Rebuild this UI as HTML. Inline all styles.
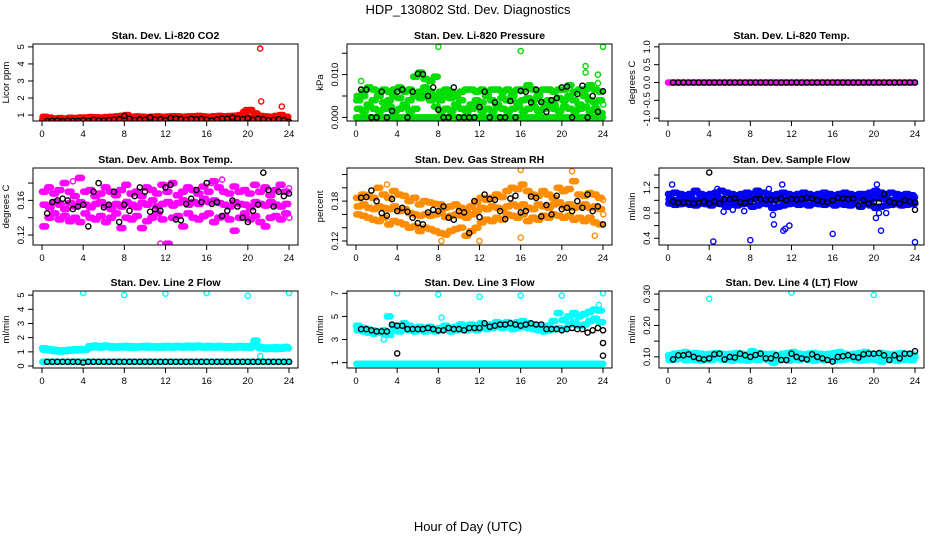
<!DOCTYPE html>
<html><head><meta charset="utf-8"><title>HDP_130802 Std. Dev. Diagnostics</title>
<style>
html,body{margin:0;padding:0;background:#fff;}
svg{display:block;font-family:"Liberation Sans",Arial,sans-serif;}
</style></head>
<body>
<svg id="chart" width="936" height="540" viewBox="0 0 936 540" xmlns="http://www.w3.org/2000/svg">
<rect x="0" y="0" width="936" height="540" fill="#fff"/>
<text x="468" y="14" text-anchor="middle" font-size="13">HDP_130802  Std. Dev. Diagnostics</text>
<text x="468" y="531" text-anchor="middle" font-size="13">Hour of Day (UTC)</text>
</svg>
<script>
// ---- shared tick labels ----
const xTicks = [0,4,8,12,16,20,24];

// ---- P1 CO2 ----
const co2Red1 = [0.6,0.62,0.6,0.63,0.61,0.62,0.64,0.6,0.62,0.63,0.65,0.64,0.62,0.66,0.64,0.65,0.63,0.62,0.65,0.66,0.64,0.66,0.67,0.65,0.66,0.68,0.66,0.67,0.65,0.66,0.6,0.64,0.68,0.67,0.66,0.68,0.67,0.66,0.65,0.67,0.68,0.66,0.6,0.62,0.64,0.63,0.62,0.6,0.5];
const co2Red2 = [0.9,0.85,0.8,0.82,0.8,0.84,0.83,0.86,0.85,0.88,0.87,0.86,0.88,0.9,0.92,0.95,1.0,0.9,0.92,0.9,0.88,0.9,0.92,0.9,0.91,0.93,0.92,0.9,0.92,0.93,0.95,0.92,0.9,0.93,0.95,0.92,0.94,0.96,1.0,1.2,1.3,1.1,0.95,0.92,0.9,0.95,1.0,0.9,0.8];
const co2Red3 = [0.72,0.74,0.73,0.75,0.72,0.74,0.76,0.75,0.73,0.77,0.76,0.78,0.75,0.77,0.79,0.78,0.8,0.78,0.77,0.79,0.8,0.78,0.81,0.79,0.8,0.82,0.8,0.81,0.79,0.82,0.8,0.83,0.81,0.8,0.82,0.84,0.82,0.8,0.83,0.85,0.84,0.82,0.78,0.76,0.78,0.75,0.77,0.74,0.6];
const co2OutHours = [21.2,21.3,20.3,19.8,23.3,23.6];
const co2OutVals = [4.9,1.8,1.3,1.3,1.5,0.7];
const co2Black = [0.65,0.66,0.68,0.64,0.67,0.66,0.65,0.7,0.66,0.72,0.7,0.68,0.71,0.73,0.75,0.95,0.78,0.7,0.74,0.72,0.86,0.73,0.75,0.7,0.82,0.8,0.76,0.72,0.78,0.75,0.77,0.72,0.68,0.74,0.8,0.78,0.86,0.8,0.76,0.82,0.72,0.78,0.75,0.7,0.72,0.76,0.7,0.6];
const co2YTicks = [1,2,3,4,5];
const co2YLabels = ["1","2","3","4","5"];

// ---- P2 Pressure ----
const presG0 = [0,0,0,0,0,0,0,0,0,0,0,0,0,0,0,0,0,0,0,0,0,0,0,0,0,0,0,0,0,0,0,0,0,0,0,0,0,0,0,0,0,0,0,0,0,0,0,0,0];
const presG1 = [0.005,0.006,0.007,0.0065,0.006,0.0065,0.006,0.0065,0.007,0.006,0.0065,0.0095,0.0105,0.009,0.0085,0.0095,0.006,0.0065,0.006,0.005,0.006,0.0065,0.0065,0.006,0.0065,0.006,0.0065,0.0065,0.006,0.0065,0.006,0.0065,0.0065,0.0075,0.0065,0.006,0.0065,0.0065,0.006,0.0065,0.0065,0.0075,0.006,0.0065,0.0065,0.0075,0.0065,0.006,0.005];
const presG2 = [0.004,0.005,0.003,0.004,0.005,0.0035,0.004,0.005,0.0045,0.003,0.004,0.005,0.006,0.007,0.006,0.005,0.004,0.005,0.0045,0.003,0.004,0.002,0.003,0.004,0.0035,0.005,0.004,0.003,0.0045,0.004,0.005,0.0035,0.004,0.0045,0.004,0.005,0.0035,0.004,0.003,0.0045,0.004,0.005,0.004,0.003,0.005,0.004,0.0035,0.004,0.003];
const presG3 = [0.002,0.0015,0.0025,0.002,0.0015,0.002,0.0025,0.0015,0.002,0.0025,0.0015,0.002,0.0045,0.005,0.004,0.0025,0.0015,0.002,0.0015,0.0025,0.002,0.0015,0.002,0.0025,0.0015,0.002,0.0015,0.0025,0.002,0.0015,0.002,0.0025,0.0015,0.002,0.0025,0.0015,0.002,0.0025,0.002,0.0015,0.0025,0.002,0.0015,0.002,0.0025,0.0015,0.002,0.001,0.0015];
const presOutHours = [0.5,8,16,24,22.3,22.3,23.5,23.5];
const presOutVals = [0.0085,0.0165,0.0155,0.0165,0.012,0.0105,0.010,0.008];
const presBlack = [0.0065,0.0065,0,0,0.006,0,0.0015,0.006,0.0065,0,0.006,0.0102,0.0101,0.005,0.007,0.0018,0,0,0.007,0,0,0,0,0.0024,0.006,0,0.0035,0,0,0.0038,0,0.0062,0.006,0.0035,0.0065,0.0036,0.0013,0.004,0.0045,0.007,0.0072,0,0.0055,0.0074,0,0.005,0.0013,0.0061];
const presYTicks = [0,0.005,0.010,0.015];
const presYLabels = ["0.000","","0.010",""];

// ---- P3 Li-820 Temp ----
const tempMag = [0,0,0,0,0,0,0,0,0,0,0,0,0,0,0,0,0,0,0,0,0,0,0,0,0,0,0,0,0,0,0,0,0,0,0,0,0,0,0,0,0,0,0,0,0,0,0,0,0];
const tempBlack = [0,0,0,0,0,0,0,0,0,0,0,0,0,0,0,0,0,0,0,0,0,0,0,0,0,0,0,0,0,0,0,0,0,0,0,0,0,0,0,0,0,0,0,0,0,0,0,0];
const tempYTicks = [-1,-0.5,0,0.5,1];
const tempYLabels = ["-1.0","-0.5","0.0","0.5","1.0"];

// ---- P4 Amb Box Temp ----
const boxM1 = [0.17,0.175,0.168,0.172,0.18,0.17,0.165,0.186,0.17,0.172,0.165,0.168,0.175,0.17,0.166,0.172,0.178,0.168,0.17,0.165,0.175,0.172,0.168,0.178,0.17,0.18,0.166,0.17,0.175,0.172,0.168,0.176,0.17,0.182,0.175,0.17,0.168,0.176,0.17,0.172,0.168,0.178,0.17,0.175,0.166,0.172,0.178,0.17,0.174];
const boxM2 = [0.155,0.152,0.158,0.155,0.15,0.157,0.153,0.158,0.155,0.152,0.156,0.158,0.154,0.15,0.156,0.153,0.158,0.155,0.152,0.157,0.155,0.16,0.153,0.156,0.158,0.154,0.157,0.16,0.155,0.158,0.156,0.162,0.158,0.16,0.157,0.155,0.153,0.158,0.156,0.155,0.152,0.158,0.156,0.154,0.158,0.155,0.153,0.156,0.155];
const boxM3 = [0.13,0.14,0.145,0.138,0.142,0.136,0.14,0.135,0.145,0.14,0.138,0.142,0.135,0.14,0.145,0.128,0.14,0.138,0.142,0.128,0.136,0.14,0.145,0.138,0.11,0.14,0.142,0.13,0.145,0.14,0.138,0.142,0.145,0.135,0.14,0.142,0.138,0.125,0.14,0.145,0.138,0.142,0.135,0.13,0.14,0.142,0.138,0.145,0.14];
const boxOutHours = [3,17.5,16.5,11.5];
const boxOutVals = [0.182,0.184,0.18,0.11];
const boxBlack = [0.145,0.158,0.16,0.162,0.16,0.15,0.153,0.155,0.13,0.17,0.18,0.152,0.155,0.17,0.135,0.155,0.148,0.165,0.175,0.17,0.147,0.15,0.148,0.175,0.178,0.138,0.137,0.156,0.162,0.172,0.158,0.18,0.156,0.158,0.142,0.148,0.16,0.153,0.14,0.135,0.148,0.155,0.192,0.172,0.153,0.17,0.165,0.168];
const boxYTicks = [0.12,0.14,0.16,0.18];
const boxYLabels = ["0.12","","0.16",""];

// ---- P5 Gas Stream RH ----
const rhO1 = [0.185,0.19,0.188,0.185,0.2,0.19,0.185,0.195,0.19,0.188,0.18,0.185,0.175,0.18,0.178,0.176,0.175,0.17,0.172,0.175,0.17,0.168,0.172,0.178,0.185,0.182,0.185,0.19,0.186,0.195,0.2,0.198,0.205,0.195,0.19,0.188,0.195,0.19,0.185,0.2,0.195,0.198,0.21,0.19,0.188,0.192,0.19,0.185,0.182];
const rhO2 = [0.172,0.175,0.17,0.168,0.172,0.17,0.168,0.172,0.165,0.168,0.162,0.16,0.158,0.16,0.158,0.16,0.162,0.156,0.158,0.16,0.158,0.155,0.16,0.165,0.17,0.168,0.172,0.17,0.168,0.172,0.175,0.172,0.175,0.17,0.168,0.175,0.172,0.17,0.175,0.178,0.172,0.175,0.17,0.172,0.175,0.17,0.172,0.168,0.172];
const rhO3 = [0.16,0.158,0.155,0.152,0.15,0.155,0.145,0.15,0.148,0.145,0.14,0.142,0.135,0.14,0.138,0.135,0.132,0.13,0.135,0.138,0.14,0.128,0.135,0.14,0.148,0.152,0.15,0.155,0.152,0.16,0.158,0.155,0.16,0.15,0.155,0.152,0.158,0.155,0.16,0.158,0.155,0.158,0.152,0.155,0.15,0.155,0.148,0.145,0.16];
const rhOutHours = [21,16,3,8.3,12,16,23.2];
const rhOutVals = [0.225,0.227,0.205,0.12,0.12,0.125,0.128];
const rhBlack = [0.185,0.186,0.196,0.18,0.162,0.158,0.183,0.165,0.17,0.164,0.155,0.147,0.145,0.163,0.167,0.165,0.172,0.155,0.152,0.165,0.163,0.132,0.18,0.156,0.19,0.183,0.182,0.165,0.153,0.184,0.188,0.163,0.165,0.187,0.185,0.157,0.174,0.16,0.188,0.168,0.17,0.165,0.18,0.17,0.19,0.165,0.172,0.145];
const rhYTicks = [0.12,0.14,0.16,0.18,0.20,0.22];
const rhYLabels = ["0.12","","","0.18","",""];

// ---- P6 Sample Flow ----
const sfB1 = [1.1,1.12,1.1,1.08,1.1,1.15,1.1,1.08,1.1,1.12,1.15,1.12,1.1,1.08,1.1,1.12,1.1,1.15,1.12,1.1,1.08,1.1,1.12,1.1,1.08,1.1,1.12,1.1,1.08,1.1,1.12,1.1,1.08,1.1,1.12,1.1,1.08,1.1,1.1,1.12,1.15,1.12,1.1,1.12,1.1,1.08,1.1,1.08,1.05];
const sfB2 = [1.02,1.0,1.02,1.0,1.02,1.0,1.03,1.0,1.02,1.05,1.02,1.0,1.05,1.03,1.05,1.02,1.03,1.05,1.0,1.02,1.0,1.05,1.0,1.02,1.03,1.0,1.02,1.03,1.02,1.0,1.03,1.02,1.0,1.02,1.03,1.0,1.02,1.03,1.0,1.02,1.05,1.03,1.02,1.0,1.02,1.03,1.0,1.02,1.0];
const sfB3 = [0.95,0.93,0.94,0.95,0.93,0.92,0.95,0.94,0.92,0.95,0.94,0.9,0.95,0.92,0.94,0.95,0.9,0.92,0.95,0.94,0.88,0.9,0.92,0.94,0.95,0.93,0.94,0.92,0.95,0.94,0.93,0.95,0.92,0.94,0.93,0.92,0.95,0.9,0.94,0.92,0.88,0.9,0.92,0.93,0.94,0.92,0.93,0.94,0.95];
const sfOutHours = [0.4,4.4,8,16,24,11.2,11.4,11.8,10.3,10.2,20.3,20.2,20.7,20.5,21.2,6.3,7.4,11.1,9.8,4.8,5.4];
const sfOutVals = [1.25,0.35,0.37,0.47,0.34,0.52,0.55,0.6,0.62,0.77,1.25,0.72,0.52,0.8,0.8,0.85,0.83,1.25,1.18,1.18,0.82];
const sfBlack = [0.98,0.96,0.97,0.96,0.95,0.96,0.98,0.95,0.98,0.95,1.02,1.02,1.03,0.97,0.96,0.98,1.02,1.02,1.01,1.01,1.0,1.03,1.0,1.02,1.01,1.02,1.04,1.03,1.0,0.98,0.97,1.0,1.04,1.03,1.02,1.03,0.92,1.0,0.95,0.97,0.96,1.1,0.98,0.96,0.95,1.0,0.98,0.97];
const sfBlackOutHours = [4,24];
const sfBlackOutVals = [1.44,0.85];
const sfYTicks = [0.4,0.6,0.8,1.0,1.2,1.4];
const sfYLabels = ["0.4","","0.8","","1.2",""];

// ---- P7 Line 2 Flow ----
const l2C1 = [1.25,1.2,1.15,1.1,1.1,1.15,1.18,1.2,1.2,1.4,1.45,1.4,1.45,1.4,1.38,1.4,1.42,1.4,1.38,1.4,1.42,1.4,1.38,1.4,1.42,1.4,1.42,1.4,1.43,1.42,1.45,1.4,1.42,1.4,1.42,1.4,1.4,1.38,1.42,1.4,1.4,1.6,1.35,1.3,1.3,1.32,1.3,1.35,1.25];
const l2C2 = [1.15,1.1,1.05,1.02,1.05,1.08,1.1,1.12,1.15,1.3,1.32,1.3,1.35,1.3,1.3,1.32,1.3,1.3,1.3,1.32,1.3,1.32,1.3,1.3,1.32,1.3,1.33,1.3,1.32,1.3,1.34,1.3,1.32,1.3,1.32,1.3,1.3,1.3,1.32,1.3,1.3,1.8,1.25,1.2,1.22,1.2,1.22,1.25,1.2];
const l2C3 = [0.3,0.3,0.3,0.3,0.3,0.3,0.3,0.3,0.3,0.3,0.3,0.3,0.3,0.3,0.3,0.3,0.3,0.3,0.3,0.3,0.3,0.3,0.3,0.3,0.3,0.3,0.3,0.3,0.3,0.3,0.3,0.3,0.3,0.3,0.3,0.3,0.3,0.3,0.3,0.3,0.3,0.3,0.3,0.3,0.3,0.3,0.3,0.3,0.3];
const l2OutHours = [4,8,12,16,20,24,21.2];
const l2OutVals = [5.15,5.0,5.1,5.15,4.95,5.15,0.7];
const l2Black = [0.3,0.3,0.3,0.3,0.3,0.3,0.3,0.25,0.3,0.3,0.3,0.3,0.3,0.3,0.3,0.3,0.3,0.3,0.3,0.3,0.3,0.3,0.3,0.3,0.3,0.3,0.3,0.3,0.3,0.3,0.3,0.3,0.3,0.3,0.3,0.3,0.3,0.3,0.3,0.3,0.3,0.3,0.3,0.3,0.3,0.3,0.3,0.3];
const l2YTicks = [0,1,2,3,4,5];
const l2YLabels = ["0","1","2","3","4","5"];

// ---- P8 Line 3 Flow ----
const l3C1 = [4.2,4.0,3.9,3.8,3.7,3.8,5.0,4.2,4.0,4.4,4.2,4.0,4.1,4.0,4.1,3.9,4.0,4.2,4.0,4.1,4.3,4.2,4.3,4.2,4.4,4.2,4.3,4.5,4.4,4.5,4.3,4.5,4.6,4.4,4.3,4.2,4.1,4.2,4.6,5.3,4.7,5.0,5.3,5.0,5.2,5.4,5.6,5.5,4.5];
const l3C2 = [3.8,3.7,3.6,3.5,3.6,3.5,3.4,3.8,3.7,3.9,3.8,3.7,3.8,3.7,3.8,3.7,3.8,3.9,3.7,3.8,3.9,3.8,3.9,3.8,4.0,3.9,4.0,4.1,4.0,4.1,3.9,4.0,4.1,4.0,3.9,3.8,3.7,3.8,3.9,4.0,3.9,4.3,4.5,4.2,4.3,4.6,4.8,4.5,4.0];
const l3C3 = [0.9,0.9,0.9,0.9,0.9,0.9,0.9,0.9,0.9,0.9,0.9,0.9,0.9,0.9,0.9,0.9,0.9,0.9,0.9,0.9,0.9,0.9,0.9,0.9,0.9,0.9,0.9,0.9,0.9,0.9,0.9,0.9,0.9,0.9,0.9,0.9,0.9,0.9,0.9,0.9,0.9,0.9,0.9,0.9,0.9,0.9,0.9,0.9,0.9];
const l3OutHours = [4,8,12,16,20,24,23.6,8.3,2.7];
const l3OutVals = [7.0,6.9,6.7,6.8,6.8,7.0,6.0,4.9,3.0];
const l3Black = [3.9,3.9,3.8,3.7,3.7,3.7,4.3,4.2,4.2,3.9,3.9,3.9,3.9,4.0,3.9,3.8,3.8,4.0,3.9,3.9,3.8,4.0,4.0,4.0,4.4,4.1,4.2,4.3,4.3,4.4,4.3,4.2,4.3,4.4,4.3,4.3,3.9,3.9,3.9,3.8,3.9,4.0,3.9,3.9,3.6,3.8,4.0,3.8];
const l3BlackOutHours = [4,24,24];
const l3BlackOutVals = [1.8,2.7,1.6];
const l3YTicks = [1,3,5,7];
const l3YLabels = ["1","3","5","7"];

// ---- P9 Line 4 Flow ----
const l4C1 = [0.105,0.11,0.112,0.115,0.11,0.112,0.11,0.108,0.11,0.112,0.11,0.108,0.11,0.112,0.11,0.108,0.118,0.112,0.11,0.108,0.11,0.106,0.11,0.112,0.115,0.11,0.108,0.11,0.112,0.11,0.108,0.11,0.112,0.115,0.11,0.108,0.11,0.112,0.115,0.11,0.108,0.112,0.11,0.108,0.11,0.112,0.11,0.108,0.105];
const l4C2 = [0.09,0.092,0.095,0.09,0.092,0.09,0.088,0.092,0.09,0.095,0.092,0.09,0.088,0.092,0.09,0.088,0.092,0.09,0.094,0.09,0.082,0.09,0.092,0.088,0.092,0.09,0.095,0.09,0.088,0.092,0.09,0.092,0.088,0.09,0.092,0.095,0.09,0.088,0.09,0.092,0.09,0.085,0.092,0.09,0.088,0.09,0.092,0.09,0.092];
const l4C3 = [0.1,0.098,0.102,0.1,0.1,0.098,0.1,0.102,0.1,0.1,0.098,0.102,0.1,0.1,0.1,0.098,0.1,0.102,0.1,0.1,0.098,0.1,0.102,0.1,0.1,0.1,0.098,0.1,0.102,0.1,0.1,0.098,0.1,0.102,0.1,0.1,0.1,0.098,0.1,0.102,0.1,0.1,0.098,0.1,0.102,0.1,0.1,0.098,0.1];
const l4OutHours = [4,12,20,10.3];
const l4OutVals = [0.285,0.305,0.297,0.08];
const l4Black = [0.092,0.105,0.105,0.108,0.1,0.095,0.092,0.095,0.108,0.11,0.092,0.1,0.098,0.11,0.105,0.1,0.106,0.11,0.095,0.095,0.105,0.09,0.09,0.11,0.1,0.095,0.092,0.108,0.1,0.095,0.09,0.085,0.1,0.102,0.105,0.1,0.098,0.108,0.11,0.11,0.112,0.105,0.09,0.105,0.095,0.11,0.11,0.118];
const l4YTicks = [0.10,0.15,0.20,0.25,0.30];
const l4YLabels = ["0.10","","0.20","","0.30"];

const NS = "http://www.w3.org/2000/svg";
const svg = document.getElementById('chart');
function mk(tag, attrs, parent){ const e=document.createElementNS(NS,tag); for(const k in attrs) e.setAttribute(k,attrs[k]); (parent||svg).appendChild(e); return e; }

const BOX_W = 265, BOX_H = 77;
function drawPanel(cfg){
  const g = mk('g',{});
  
  
  const L = cfg.left, T = cfg.top;
  const xS = h => L + 9 + (h/24)*247;
  const yS = v => T + BOX_H - (v - cfg.ymin)/(cfg.ymax - cfg.ymin)*BOX_H;
  const t = mk('text',{x:L+BOX_W/2, y:T-5, 'text-anchor':'middle','font-size':10.5,'font-weight':'bold'},g);
  t.textContent = cfg.title;
  
  
  const clip = 'clip-'+cfg.name;
  const cp = mk('clipPath',{id:clip},g); mk('rect',{x:L,y:T,width:BOX_W,height:BOX_H},cp);
  const pg = mk('g',{'clip-path':'url(#'+clip+')'},g);
  function series(vals, start, step, color, nm){
    const sg = mk('g',{fill:'none',stroke:color,'stroke-width':1.4},pg);
    
    
    vals.forEach((v,i)=>{
      const h = start+i*step;
      if (h > 24.05) return;
      const c = mk('circle',{cx:xS(h).toFixed(1), cy:yS(v).toFixed(1), r:2.6},sg);
      
      
    });
  }
  function pts(hours, vals, color, nm){
    const sg = mk('g',{fill:'none',stroke:color,'stroke-width':1.4},pg);
    
    
    hours.forEach((h,i)=>{
      const c = mk('circle',{cx:xS(h).toFixed(1), cy:yS(vals[i]).toFixed(1), r:2.6},sg);
      
      
    });
  }
  const base=[0,0.06,0.03,0.09];
  const sub=[0,0.125,0.25,0.375];
  cfg.colored.forEach((arr,k)=>{ sub.forEach(s=>series(arr, base[k%4]+s, 0.5, cfg.color, 'colored-series')); });
  if(cfg.outH) pts(cfg.outH, cfg.outV, cfg.color, 'colored-outliers');
  series(cfg.black, 0.5, 0.5, '#000', 'black-series');
  if(cfg.bOutH) pts(cfg.bOutH, cfg.bOutV, '#000', 'black-outliers');
  const box = mk('rect',{x:L,y:T,width:BOX_W,height:BOX_H,fill:'none',stroke:'#000','stroke-width':1},g);
  
  
  xTicks.forEach(h=>{
    const x=xS(h);
    mk('line',{x1:x,x2:x,y1:T+BOX_H,y2:T+BOX_H+5,stroke:'#000'},g);
    const tl = mk('text',{x:x,y:T+BOX_H+16,'text-anchor':'middle','font-size':9.5},g);
    tl.textContent = h;
    
    
  });
  cfg.yTicks.forEach((v,i)=>{
    const y=yS(v);
    mk('line',{x1:L-5,x2:L,y1:y,y2:y,stroke:'#000'},g);
    if(cfg.yLabels[i]){
      const tl = mk('text',{x:L-9,y:y,'text-anchor':'middle','font-size':9.5,transform:'rotate(-90 '+(L-9)+' '+y+')'},g);
      tl.textContent = cfg.yLabels[i];
      
      
    }
  });
  const yt = mk('text',{x:L-24,y:T+BOX_H/2,'text-anchor':'middle','font-size':9.5,transform:'rotate(-90 '+(L-24)+' '+(T+BOX_H/2)+')'},g);
  yt.textContent = cfg.ylab;
  
  
}

const cols=[33,347,659], rows=[44,168,291];
drawPanel({name:'panel-co2',title:'Stan. Dev. Li-820 CO2',left:cols[0],top:rows[0],ymin:0.652,ymax:5.17,color:'#ff0000',colored:[co2Red1,co2Red2,co2Red3],outH:co2OutHours,outV:co2OutVals,black:co2Black,yTicks:co2YTicks,yLabels:co2YLabels,ylab:'Licor ppm'});
drawPanel({name:'panel-pressure',title:'Stan. Dev. Li-820 Pressure',left:cols[1],top:rows[0],ymin:-0.00085,ymax:0.01716,color:'#00dd00',colored:[presG0,presG1,presG2,presG3],outH:presOutHours,outV:presOutVals,black:presBlack,yTicks:presYTicks,yLabels:presYLabels,ylab:'kPa'});
drawPanel({name:'panel-li820-temp',title:'Stan. Dev. Li-820 Temp.',left:cols[2],top:rows[0],ymin:-1.08,ymax:1.08,color:'#ff00ff',colored:[tempMag],black:tempBlack,yTicks:tempYTicks,yLabels:tempYLabels,ylab:'degrees C'});
drawPanel({name:'panel-box-temp',title:'Stan. Dev. Amb. Box Temp.',left:cols[0],top:rows[1],ymin:0.1085,ymax:0.1974,color:'#ff00ff',colored:[boxM1,boxM2,boxM3],outH:boxOutHours,outV:boxOutVals,black:boxBlack,yTicks:boxYTicks,yLabels:boxYLabels,ylab:'degrees C'});
drawPanel({name:'panel-rh',title:'Stan. Dev. Gas Stream RH',left:cols[1],top:rows[1],ymin:0.114,ymax:0.2298,color:'#ff8c00',colored:[rhO1,rhO2,rhO3],outH:rhOutHours,outV:rhOutVals,black:rhBlack,yTicks:rhYTicks,yLabels:rhYLabels,ylab:'percent'});
drawPanel({name:'panel-sample-flow',title:'Stan. Dev. Sample Flow',left:cols[2],top:rows[1],ymin:0.294,ymax:1.511,color:'#0000ff',colored:[sfB1,sfB2,sfB3],outH:sfOutHours,outV:sfOutVals,black:sfBlack,bOutH:sfBlackOutHours,bOutV:sfBlackOutVals,yTicks:sfYTicks,yLabels:sfYLabels,ylab:'ml/min'});
drawPanel({name:'panel-line2',title:'Stan. Dev. Line 2 Flow',left:cols[0],top:rows[2],ymin:-0.14,ymax:5.29,color:'#00ffff',colored:[l2C1,l2C2,l2C3],outH:l2OutHours,outV:l2OutVals,black:l2Black,yTicks:l2YTicks,yLabels:l2YLabels,ylab:'ml/min'});
drawPanel({name:'panel-line3',title:'Stan. Dev. Line 3 Flow',left:cols[1],top:rows[2],ymin:0.535,ymax:7.2,color:'#00ffff',colored:[l3C1,l3C2,l3C3],outH:l3OutHours,outV:l3OutVals,black:l3Black,bOutH:l3BlackOutHours,bOutV:l3BlackOutVals,yTicks:l3YTicks,yLabels:l3YLabels,ylab:'ml/min'});
drawPanel({name:'panel-line4',title:'Stan. Dev. Line 4 (LT) Flow',left:cols[2],top:rows[2],ymin:0.0645,ymax:0.3097,color:'#00ffff',colored:[l4C1,l4C2,l4C3],outH:l4OutHours,outV:l4OutVals,black:l4Black,yTicks:l4YTicks,yLabels:l4YLabels,ylab:'ml/min'});
</script>
</body></html>
